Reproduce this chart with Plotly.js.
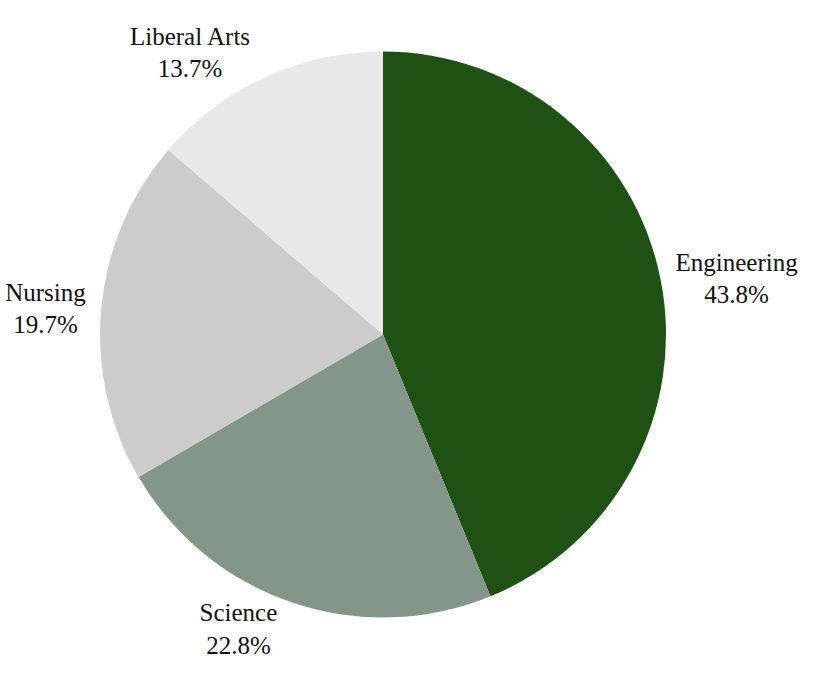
<!DOCTYPE html>
<html>
<head>
<meta charset="utf-8">
<script src="https://cdn.plot.ly/plotly-3.0.1.min.js"></script>
<style>
html,body{margin:0;padding:0;background:#fff;}
#chart{width:835px;height:679px;}
</style>
</head>
<body>
<div id="chart"></div>
<script>
const categories = ["Engineering", "Science", "Nursing", "Liberal Arts"];
const shares = [43.8, 22.8, 19.7, 13.7];
const sliceColors = ["#1f5014", "#84968a", "#cccccc", "#e8e8e8"];

Plotly.newPlot("chart", [{
  type: "pie",
  labels: categories,
  values: shares,
  sort: false,
  direction: "clockwise",
  rotation: 0,
  marker: {colors: sliceColors, line: {width: 0}},
  textposition: "outside",
  texttemplate: "%{label}<br>%{percent:.1%}",
  hoverinfo: "label+percent",
  outsidetextfont: {family: "Liberation Serif", size: 25, color: "#111111"},
  showlegend: false
}], {
  width: 835, height: 679,
  margin: {l: 100, r: 169, t: 51, b: 61},
  paper_bgcolor: "#fff",
  font: {family: "Liberation Serif", size: 25, color: "#111111"},
  showlegend: false
}, {displayModeBar: false});
</script>
</body>
</html>
